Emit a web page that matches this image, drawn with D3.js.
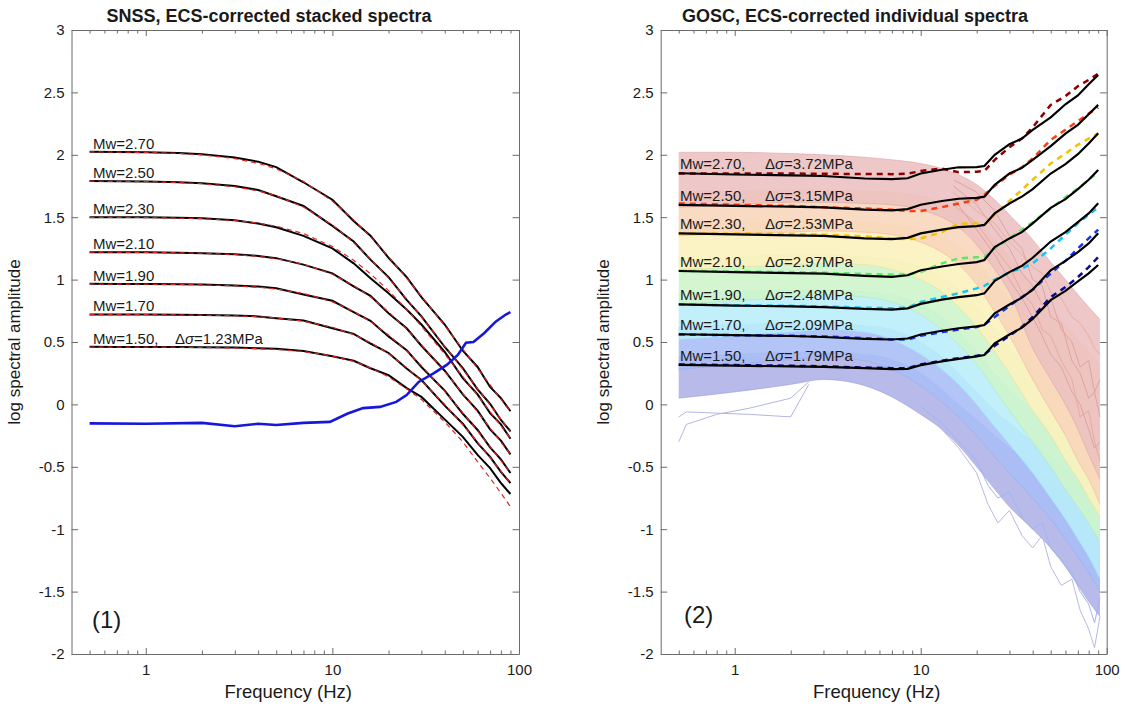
<!DOCTYPE html>
<html>
<head>
<meta charset="utf-8">
<script src="https://cdn.jsdelivr.net/npm/d3@7"></script>
<style>
	body { margin: 0; background: #fff; }
	svg text { font-family: "Liberation Sans", Arial, Helvetica, sans-serif; fill: #1a1a1a; }
</style>
</head>
<body>
<script>

// ---- data ----
const MW_LABELS = ['2.70', '2.50', '2.30', '2.10', '1.90', '1.70', '1.50'];
const STRESS_DROPS = ['3.72', '3.15', '2.53', '2.97', '2.48', '2.09', '1.79'];

// panel (1): stacked spectra
const freqSNSS = [0.5, 0.7, 1, 1.5, 2, 3, 4, 5, 7, 10, 13, 16, 20, 25, 30, 40, 50, 60, 70, 80, 90];
const snssObs = [
	[2.025, 2.022, 2.020, 2.014, 2.004, 1.978, 1.945, 1.901, 1.780, 1.640, 1.470, 1.352, 1.175, 1.020, 0.860, 0.640, 0.430, 0.300, 0.140, 0.050, -0.055],
	[1.790, 1.788, 1.786, 1.780, 1.772, 1.750, 1.718, 1.668, 1.590, 1.430, 1.305, 1.160, 1.020, 0.838, 0.705, 0.460, 0.290, 0.120, 0.005, -0.125, -0.215],
	[1.500, 1.500, 1.499, 1.496, 1.492, 1.476, 1.450, 1.420, 1.350, 1.250, 1.130, 1.010, 0.890, 0.760, 0.640, 0.420, 0.210, 0.080, -0.070, -0.160, -0.275],
	[1.220, 1.220, 1.219, 1.216, 1.212, 1.203, 1.190, 1.172, 1.120, 1.050, 0.945, 0.870, 0.730, 0.610, 0.470, 0.270, 0.080, -0.050, -0.200, -0.290, -0.400],
	[0.966, 0.965, 0.964, 0.962, 0.960, 0.953, 0.944, 0.930, 0.880, 0.830, 0.740, 0.670, 0.545, 0.435, 0.300, 0.110, -0.075, -0.205, -0.345, -0.440, -0.550],
	[0.721, 0.720, 0.720, 0.718, 0.716, 0.712, 0.705, 0.690, 0.672, 0.610, 0.565, 0.488, 0.412, 0.288, 0.195, -0.010, -0.155, -0.310, -0.420, -0.540, -0.630],
	[0.461, 0.460, 0.460, 0.459, 0.458, 0.455, 0.450, 0.445, 0.428, 0.385, 0.350, 0.290, 0.235, 0.130, 0.060, -0.120, -0.260, -0.405, -0.510, -0.630, -0.718]
];
const snssModel = [
	[2.023, 2.022, 2.019, 2.011, 2.000, 1.970, 1.932, 1.888, 1.787, 1.629, 1.479, 1.343, 1.183, 1.012, 0.867, 0.631, 0.443, 0.288, 0.157, 0.042, -0.060],
	[1.789, 1.787, 1.785, 1.778, 1.769, 1.744, 1.711, 1.672, 1.582, 1.438, 1.297, 1.166, 1.012, 0.845, 0.701, 0.467, 0.281, 0.127, -0.005, -0.119, -0.220],
	[1.499, 1.499, 1.497, 1.493, 1.488, 1.473, 1.453, 1.428, 1.369, 1.265, 1.155, 1.047, 0.912, 0.761, 0.627, 0.403, 0.222, 0.071, -0.059, -0.172, -0.272],
	[1.220, 1.219, 1.218, 1.215, 1.211, 1.201, 1.186, 1.168, 1.124, 1.043, 0.953, 0.861, 0.741, 0.603, 0.478, 0.263, 0.087, -0.061, -0.189, -0.301, -0.400],
	[0.965, 0.964, 0.963, 0.961, 0.958, 0.950, 0.939, 0.925, 0.889, 0.822, 0.745, 0.664, 0.556, 0.428, 0.310, 0.105, -0.067, -0.213, -0.339, -0.450, -0.549],
	[0.720, 0.719, 0.719, 0.717, 0.715, 0.710, 0.702, 0.692, 0.667, 0.618, 0.559, 0.495, 0.406, 0.295, 0.190, 0.000, -0.163, -0.304, -0.427, -0.535, -0.633],
	[0.460, 0.459, 0.459, 0.458, 0.456, 0.452, 0.446, 0.440, 0.424, 0.388, 0.345, 0.292, 0.222, 0.125, 0.040, -0.140, -0.300, -0.460, -0.590, -0.710, -0.820]
];
const freqBlue = [0.5, 1, 2, 3, 4, 5, 7, 9.7, 12, 14.6, 18, 22, 25, 29, 35, 41, 47, 52, 57, 65, 75, 85, 90];
const blueVals = [-0.152, -0.155, -0.148, -0.175, -0.155, -0.165, -0.148, -0.14, -0.075, -0.03, -0.02, 0.02, 0.075, 0.18, 0.25, 0.316, 0.396, 0.494, 0.50, 0.57, 0.663, 0.72, 0.74];

// panel (2): individual spectra
const freqGOSC = [0.5, 1, 2, 3, 5, 7, 8.5, 10, 13, 16, 20, 22, 25, 30, 35, 40, 50, 60, 70, 80, 90];
const goscObs = [
	[1.852, 1.842, 1.835, 1.830, 1.810, 1.805, 1.812, 1.850, 1.880, 1.900, 1.902, 1.910, 2.000, 2.085, 2.130, 2.200, 2.300, 2.405, 2.475, 2.565, 2.640],
	[1.598, 1.590, 1.585, 1.578, 1.560, 1.555, 1.565, 1.600, 1.630, 1.648, 1.655, 1.665, 1.760, 1.850, 1.895, 1.960, 2.070, 2.170, 2.240, 2.325, 2.400],
	[1.371, 1.362, 1.355, 1.350, 1.330, 1.325, 1.335, 1.370, 1.400, 1.420, 1.428, 1.438, 1.530, 1.610, 1.665, 1.725, 1.850, 1.925, 2.005, 2.090, 2.172],
	[1.069, 1.060, 1.052, 1.048, 1.030, 1.022, 1.035, 1.075, 1.105, 1.125, 1.140, 1.157, 1.260, 1.330, 1.380, 1.450, 1.575, 1.645, 1.725, 1.800, 1.878],
	[0.802, 0.792, 0.785, 0.780, 0.765, 0.760, 0.770, 0.805, 0.840, 0.860, 0.875, 0.890, 0.990, 1.060, 1.110, 1.175, 1.305, 1.380, 1.460, 1.530, 1.611],
	[0.562, 0.555, 0.548, 0.540, 0.525, 0.520, 0.528, 0.560, 0.590, 0.610, 0.625, 0.636, 0.730, 0.800, 0.855, 0.920, 1.075, 1.150, 1.220, 1.290, 1.371],
	[0.316, 0.310, 0.305, 0.300, 0.290, 0.282, 0.285, 0.315, 0.345, 0.365, 0.385, 0.396, 0.490, 0.560, 0.615, 0.685, 0.835, 0.910, 0.985, 1.050, 1.117]
];
const goscModel = [
	[1.850, 1.850, 1.850, 1.848, 1.846, 1.845, 1.848, 1.870, 1.890, 1.860, 1.865, 1.870, 1.960, 2.060, 2.130, 2.220, 2.400, 2.470, 2.550, 2.600, 2.650],
	[1.610, 1.600, 1.590, 1.580, 1.570, 1.560, 1.550, 1.550, 1.580, 1.610, 1.640, 1.680, 1.750, 1.840, 1.900, 1.970, 2.120, 2.200, 2.270, 2.330, 2.380],
	[1.370, 1.370, 1.365, 1.360, 1.345, 1.330, 1.325, 1.330, 1.380, 1.450, 1.450, 1.440, 1.520, 1.630, 1.720, 1.800, 1.930, 2.010, 2.080, 2.130, 2.170],
	[1.070, 1.065, 1.060, 1.055, 1.045, 1.040, 1.040, 1.060, 1.130, 1.170, 1.180, 1.180, 1.250, 1.330, 1.400, 1.460, 1.570, 1.660, 1.730, 1.800, 1.860],
	[0.800, 0.795, 0.790, 0.785, 0.775, 0.770, 0.775, 0.820, 0.860, 0.890, 0.930, 0.950, 1.000, 1.060, 1.090, 1.130, 1.250, 1.360, 1.450, 1.520, 1.580],
	[0.560, 0.555, 0.550, 0.545, 0.530, 0.520, 0.520, 0.550, 0.580, 0.600, 0.620, 0.640, 0.700, 0.790, 0.860, 0.920, 1.050, 1.150, 1.250, 1.330, 1.400],
	[0.320, 0.315, 0.310, 0.305, 0.295, 0.290, 0.290, 0.320, 0.350, 0.370, 0.390, 0.400, 0.470, 0.550, 0.620, 0.700, 0.860, 0.940, 1.020, 1.100, 1.180]
];
const MODEL_COLORS = ['#8c0000', '#ff3c10', '#f2c200', '#5ee66a', '#12c6f2', '#1634f0', '#0b0b8e'];

// background cloud of individual records, low Mw first
const cloudFreq = [0.5, 1, 2, 3, 5, 7, 10, 13, 16, 20, 25, 30, 40, 50, 60, 70, 80, 92];
const cloudUpper = [
	[0.38, 0.40, 0.42, 0.42, 0.40, 0.36, 0.25, 0.12, 0.00, -0.12, -0.25, -0.35, -0.50, -0.62, -0.72, -0.82, -0.90, -1.00],
	[0.62, 0.64, 0.65, 0.65, 0.63, 0.60, 0.50, 0.38, 0.25, 0.10, -0.05, -0.15, -0.30, -0.42, -0.52, -0.60, -0.68, -0.75],
	[0.88, 0.90, 0.92, 0.92, 0.90, 0.88, 0.80, 0.70, 0.58, 0.42, 0.25, 0.12, -0.05, -0.18, -0.28, -0.36, -0.44, -0.52],
	[1.17, 1.18, 1.20, 1.20, 1.18, 1.16, 1.10, 1.02, 0.92, 0.78, 0.60, 0.46, 0.25, 0.10, -0.02, -0.10, -0.18, -0.26],
	[1.45, 1.46, 1.47, 1.47, 1.46, 1.44, 1.40, 1.34, 1.26, 1.14, 0.98, 0.84, 0.62, 0.45, 0.32, 0.22, 0.13, 0.05],
	[1.70, 1.71, 1.72, 1.72, 1.71, 1.70, 1.67, 1.62, 1.56, 1.46, 1.32, 1.18, 0.96, 0.78, 0.64, 0.52, 0.42, 0.32],
	[2.02, 2.02, 2.01, 2.00, 1.98, 1.96, 1.93, 1.89, 1.84, 1.76, 1.64, 1.52, 1.32, 1.14, 1.00, 0.88, 0.78, 0.68]
];
const cloudLower = [
	[0.05, 0.10, 0.16, 0.20, 0.15, 0.06, -0.08, -0.20, -0.33, -0.50, -0.68, -0.82, -1.00, -1.15, -1.30, -1.45, -1.58, -1.70],
	[0.28, 0.32, 0.36, 0.38, 0.35, 0.28, 0.15, 0.02, -0.10, -0.25, -0.42, -0.55, -0.75, -0.92, -1.08, -1.22, -1.35, -1.50],
	[0.52, 0.55, 0.58, 0.60, 0.58, 0.52, 0.40, 0.28, 0.16, 0.00, -0.18, -0.32, -0.55, -0.75, -0.92, -1.08, -1.22, -1.40],
	[0.80, 0.83, 0.86, 0.88, 0.86, 0.82, 0.72, 0.60, 0.48, 0.32, 0.12, -0.05, -0.30, -0.50, -0.68, -0.82, -0.95, -1.10],
	[1.08, 1.10, 1.12, 1.13, 1.12, 1.08, 1.00, 0.90, 0.78, 0.62, 0.42, 0.25, -0.05, -0.25, -0.45, -0.60, -0.75, -0.90],
	[1.35, 1.37, 1.38, 1.39, 1.38, 1.36, 1.30, 1.22, 1.12, 0.96, 0.74, 0.55, 0.20, -0.05, -0.25, -0.45, -0.60, -0.80],
	[1.58, 1.60, 1.62, 1.62, 1.61, 1.60, 1.56, 1.50, 1.42, 1.28, 1.08, 0.90, 0.45, 0.20, 0.00, -0.20, -0.40, -0.60]
];
const CLOUD_FILL = ['#aeb0e6', '#a9bdf6', '#b8eefb', '#cdf4ca', '#fcf1bc', '#f8d5bb', '#ecc0c0'];
const CLOUD_EDGE = ['#9a9edf', '#95adf3', '#9be5f8', '#b0eaac', '#f2dd8a', '#efb696', '#dca2a2'];

// a few single records that stand out of the cloud
const lowOutFreq = [0.5, 0.55, 0.8, 1.2, 2.0, 2.5];
const lowOutA = [-0.30, -0.16, -0.08, -0.03, 0.05, 0.18];
const lowOutB = [-0.10, -0.06, -0.07, -0.08, -0.10, 0.16];
const highOutFreq = [10, 13, 16, 20, 23, 26, 30, 35, 40, 45, 50, 57, 65, 72, 80, 86, 92];
const highOutA = [-0.05, -0.20, -0.35, -0.55, -0.80, -0.95, -0.85, -1.05, -1.15, -1.05, -1.30, -1.45, -1.40, -1.65, -1.80, -1.95, -1.70];
const highOutB = [-0.02, -0.15, -0.30, -0.45, -0.65, -0.75, -0.70, -0.90, -1.00, -0.95, -1.15, -1.25, -1.35, -1.50, -1.60, -1.75, -1.55];
const redOutFreq = [15, 20, 25, 30, 35, 40, 45, 50, 57, 65, 72, 80, 86, 92];
const redOutA = [1.75, 1.60, 1.40, 1.25, 1.05, 0.95, 0.80, 0.85, 0.60, 0.50, 0.30, 0.35, 0.10, 0.20];
const redOutB = [1.70, 1.55, 1.45, 1.30, 1.20, 1.10, 1.05, 0.90, 0.85, 0.70, 0.65, 0.55, 0.45, 0.40];
const redOutC = [1.65, 1.40, 1.20, 1.00, 0.85, 0.70, 0.55, 0.40, 0.30, 0.10, 0.00, -0.20, -0.35, -0.30];
const redOutD = [1.80, 1.70, 1.55, 1.35, 1.25, 1.00, 0.95, 0.70, 0.65, 0.35, 0.25, 0.05, 0.10, -0.10];
const redOutE = [1.60, 1.45, 1.25, 1.10, 0.90, 0.80, 0.60, 0.55, 0.35, 0.20, -0.10, -0.05, -0.30, -0.45];

const Y_TICKS = [-2, -1.5, -1, -0.5, 0, 0.5, 1, 1.5, 2, 2.5, 3];
const X_MAJOR = [1, 10, 100];
const X_MINOR = [0.5, 0.6, 0.7, 0.8, 0.9, 2, 3, 4, 5, 6, 7, 8, 9, 20, 30, 40, 50, 60, 70, 80, 90];

// ---- layout ----
const TOP = 30;
const BOTTOM = 654;
const AXIS_COLOR = '#6b6b6b';

const svg = d3.select('body')
	.append('svg')
	.attr('width', 1125)
	.attr('height', 709);

function createPanel(id, left, right, title, titleX, tag, tagPos) {
	const x = d3.scaleLog().domain([0.4, 100]).range([left, right]);
	const y = d3.scaleLinear().domain([-2, 3]).range([BOTTOM, TOP]);
	const g = svg.append('g');

	g.append('clipPath')
		.attr('id', 'clip-' + id)
		.append('rect')
		.attr('x', left).attr('y', TOP)
		.attr('width', right - left).attr('height', BOTTOM - TOP);

	const plot = g.append('g').attr('clip-path', `url(#clip-${id})`);
	const axes = g.append('g');

	// frame with inward ticks
	axes.append('g')
		.attr('transform', `translate(0,${BOTTOM})`)
		.call(d3.axisBottom(x).tickValues(X_MAJOR).tickFormat(d3.format('d'))
			.tickSizeInner(-6).tickSizeOuter(0).tickPadding(10));
	axes.append('g')
		.attr('transform', `translate(0,${BOTTOM})`)
		.call(d3.axisBottom(x).tickValues(X_MINOR).tickFormat('').tickSizeInner(-3.5).tickSizeOuter(0))
		.call(a => a.select('.domain').remove());
	axes.append('g')
		.attr('transform', `translate(0,${TOP})`)
		.call(d3.axisTop(x).tickValues(X_MAJOR).tickFormat('').tickSizeInner(-6).tickSizeOuter(0));
	axes.append('g')
		.attr('transform', `translate(0,${TOP})`)
		.call(d3.axisTop(x).tickValues(X_MINOR).tickFormat('').tickSizeInner(-3.5).tickSizeOuter(0))
		.call(a => a.select('.domain').remove());
	axes.append('g')
		.attr('transform', `translate(${left},0)`)
		.call(d3.axisLeft(y).tickValues(Y_TICKS).tickFormat(d => String(d))
			.tickSizeInner(-6.5).tickSizeOuter(0).tickPadding(7));
	axes.append('g')
		.attr('transform', `translate(${right},0)`)
		.call(d3.axisRight(y).tickValues(Y_TICKS).tickFormat('').tickSizeInner(-6.5).tickSizeOuter(0));

	axes.selectAll('.domain, .tick line').attr('stroke', AXIS_COLOR).attr('stroke-width', 1);
	axes.selectAll('.tick text').attr('font-size', 15).attr('fill', '#262626')
		.style('font-family', '"Liberation Sans", Arial, sans-serif');

	g.append('text')
		.attr('x', titleX).attr('y', 22)
		.attr('text-anchor', 'middle')
		.attr('font-size', 18)
		.attr('font-weight', 'bold')
		.text(title);

	g.append('text')
		.attr('x', (left + right) / 2 - 7).attr('y', 698)
		.attr('text-anchor', 'middle')
		.attr('font-size', 18.5)
		.text('Frequency (Hz)');

	g.append('text')
		.attr('transform', `translate(${left - 52},${(TOP + BOTTOM) / 2}) rotate(-90)`)
		.attr('text-anchor', 'middle')
		.attr('font-size', 17)
		.text('log spectral amplitude');

	g.append('text')
		.attr('x', tagPos[0]).attr('y', tagPos[1])
		.attr('font-size', 24)
		.text(tag);

	return { x, y, plot, g };
}

function lineFor(x, y, freqs) {
	return d3.line()
		.x((d, i) => x(freqs[i]))
		.y(d => y(d));
}

function addLabel(g, xPos, yPos, mw, stress, stressX) {
	const t = g.append('text')
		.attr('x', xPos).attr('y', yPos)
		.attr('font-size', 15);
	t.append('tspan').text(stress ? `Mw=${mw},` : `Mw=${mw}`);
	if (stress) {
		t.append('tspan').attr('x', stressX).text('\u0394');
		t.append('tspan').attr('font-style', 'italic').text('\u03c3');
		t.append('tspan').text(`=${stress}MPa`);
	}
}

// ---- panel (1) ----
const p1 = createPanel('a', 71.5, 519, 'SNSS, ECS-corrected stacked spectra', 269, '(1)', [92, 628]);
const line1 = lineFor(p1.x, p1.y, freqSNSS);

p1.plot.append('g')
	.selectAll('path')
	.data(snssObs)
	.enter()
	.append('path')
	.attr('d', line1)
	.attr('fill', 'none')
	.attr('stroke', '#000')
	.attr('stroke-width', 2);

p1.plot.append('g')
	.selectAll('path')
	.data(snssModel)
	.enter()
	.append('path')
	.attr('d', line1)
	.attr('fill', 'none')
	.attr('stroke', '#e02424')
	.attr('stroke-width', 1.2)
	.attr('stroke-dasharray', '5,4');

p1.plot.append('path')
	.attr('d', lineFor(p1.x, p1.y, freqBlue)(blueVals))
	.attr('fill', 'none')
	.attr('stroke', '#1717dc')
	.attr('stroke-width', 2.6);

snssObs.forEach((s, i) => {
	const last = i === snssObs.length - 1;
	addLabel(p1.g, 93, p1.y(s[0]) - 3, MW_LABELS[i], last ? '1.23' : null, 175);
});

// ---- panel (2) ----
const p2 = createPanel('b', 660.7, 1106.7, 'GOSC, ECS-corrected individual spectra', 855, '(2)', [684, 623]);
const line2 = lineFor(p2.x, p2.y, freqGOSC);

const area2 = d3.area()
	.x(d => p2.x(d.f))
	.y0(d => p2.y(d.lo))
	.y1(d => p2.y(d.hi))
	.curve(d3.curveMonotoneX);

const cloud = p2.plot.append('g');
cloudUpper.forEach((hi, k) => {
	const pts = cloudFreq.map((f, i) => ({ f, hi: hi[i], lo: cloudLower[k][i] }));
	cloud.append('path')
		.attr('d', area2(pts))
		.attr('fill', CLOUD_FILL[k])
		.attr('fill-opacity', 0.88);
	[hi, cloudLower[k]].forEach(edge => {
		cloud.append('path')
			.attr('d', lineFor(p2.x, p2.y, cloudFreq).curve(d3.curveMonotoneX)(edge))
			.attr('fill', 'none')
			.attr('stroke', CLOUD_EDGE[k])
			.attr('stroke-width', 0.8)
			.attr('stroke-opacity', 0.7);
	});
});

const thinLines = [
	{ f: lowOutFreq, v: lowOutA, c: '#b3b5e4' },
	{ f: lowOutFreq, v: lowOutB, c: '#b3b5e4' },
	{ f: highOutFreq, v: highOutA, c: '#b8bae6' },
	{ f: highOutFreq, v: highOutB, c: '#a4b4ef' },
	{ f: redOutFreq, v: redOutA, c: '#dfa2a2' },
	{ f: redOutFreq, v: redOutB, c: '#eab09a' },
	{ f: redOutFreq, v: redOutC, c: '#dfa2a2' },
	{ f: redOutFreq, v: redOutD, c: '#dfa2a2' },
	{ f: redOutFreq, v: redOutE, c: '#e6aaa0' }
];
thinLines.forEach(l => {
	cloud.append('path')
		.attr('d', lineFor(p2.x, p2.y, l.f)(l.v))
		.attr('fill', 'none')
		.attr('stroke', l.c)
		.attr('stroke-width', 1);
});

p2.plot.append('g')
	.selectAll('path')
	.data(goscModel)
	.enter()
	.append('path')
	.attr('d', line2)
	.attr('fill', 'none')
	.attr('stroke', (d, i) => MODEL_COLORS[i])
	.attr('stroke-width', 2.5)
	.attr('stroke-dasharray', '6,5');

p2.plot.append('g')
	.selectAll('path')
	.data(goscObs)
	.enter()
	.append('path')
	.attr('d', line2)
	.attr('fill', 'none')
	.attr('stroke', '#000')
	.attr('stroke-width', 2.2);

goscObs.forEach((s, i) => {
	addLabel(p2.g, 680, p2.y(s[0]) - 4, MW_LABELS[i], STRESS_DROPS[i], 765);
});

</script>
</body>
</html>
